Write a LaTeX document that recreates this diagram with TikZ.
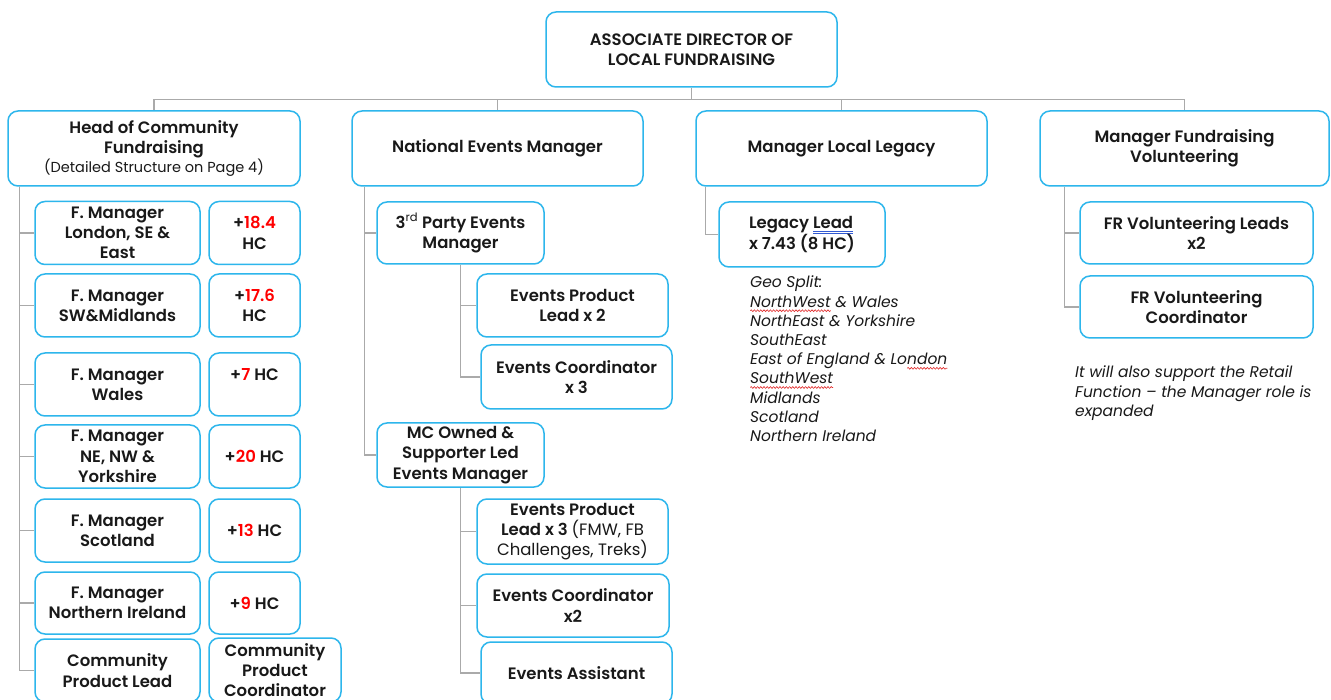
\documentclass[tikz,border=0pt]{standalone}
\usepackage{fontspec}
\setmainfont{Poppins}[BoldFont={Poppins SemiBold}]
\usetikzlibrary{decorations.pathmorphing}
\definecolor{boxblue}{RGB}{45,182,236}
\definecolor{linegray}{RGB}{170,170,170}
\definecolor{hcred}{RGB}{255,0,0}
\definecolor{wavered}{RGB}{225,40,40}
\definecolor{gblue}{RGB}{50,90,210}
\definecolor{txt}{RGB}{25,25,25}
\newsavebox\wbox
\newcommand\redwave[1]{\sbox\wbox{#1}\rlap{\tikz[overlay,baseline=0pt]\draw[wavered, line width=0.6pt, decorate, decoration={snake, amplitude=0.9pt, segment length=3.2pt}] (0pt,-3.5pt) -- (\wd\wbox,-3.5pt);}\usebox\wbox}
\newcommand\blueuu[1]{\sbox\wbox{#1}\rlap{\smash{\textcolor{gblue}{\rule[-3pt]{\wd\wbox}{0.7pt}}}}\rlap{\smash{\textcolor{gblue}{\rule[-5pt]{\wd\wbox}{0.7pt}}}}\usebox\wbox}
\newcommand\rd[1]{\textcolor{hcred}{#1}}
\begin{document}
\begin{tikzpicture}[x=1pt,y=-1pt,
  box/.style={draw=boxblue, line width=1.5pt, rounded corners=10pt, fill=white,
    align=center, inner sep=0pt, text=txt,
    font=\bfseries\fontsize{16.5}{20.3}\selectfont},
  sz/.style n args={2}{minimum width=#1pt, minimum height=#2pt},
  conn/.style={draw=linegray, line width=1.3pt},
  note/.style={align=left, inner sep=0pt, anchor=north west, text=txt,
    font=\itshape\fontsize{15.5}{19.2}\selectfont}]
\clip (0,0) rectangle (1331,700);
\fill[white] (0,0) rectangle (1331,700);

% top
\node[box, sz={291}{75}] (top) at (691.5,49.5) {ASSOCIATE DIRECTOR OF\\LOCAL FUNDRAISING};

% level 1
\node[box, sz={292}{75}] (hcf) at (154,148.5) {Head of Community\\Fundraising\\[-1pt]{\mdseries\fontsize{14.5}{18}\selectfont(Detailed Structure on Page 4)}};
\node[box, sz={291}{75}] (nem) at (497.5,148.5) {National Events Manager};
\node[box, sz={291}{75}] (mll) at (841.5,148.5) {Manager Local Legacy};
\node[box, sz={289}{75}] (mfv) at (1184.5,148.5) {Manager Fundraising\\Volunteering};

% left column
\node[box, sz={165}{63}] (fm1) at (117.5,233) {F. Manager\\London, SE \&\\East};
\node[box, sz={91}{63}]  (hc1) at (254.5,233) {+\rd{18.4}\\HC};
\node[box, sz={165}{63}] (fm2) at (117.5,305.5) {F. Manager\\SW\&Midlands};
\node[box, sz={91}{63}]  (hc2) at (254.5,305.5) {+\rd{17.6}\\HC};
\node[box, sz={165}{63}] (fm3) at (117.5,384.5) {F. Manager\\Wales};
\node[box, sz={91}{63}]  (hc3) at (254.5,384.5) {+\rd{7} HC\\\mbox{}};
\node[box, sz={165}{63}] (fm4) at (117.5,456.5) {F. Manager\\NE, NW \&\\Yorkshire};
\node[box, sz={91}{63}]  (hc4) at (254.5,456.5) {+\rd{20} HC};
\node[box, sz={165}{63}] (fm5) at (117.5,530.5) {F. Manager\\Scotland};
\node[box, sz={91}{63}]  (hc5) at (254.5,530.5) {+\rd{13} HC};
\node[box, sz={165}{62}] (fm6) at (117.5,603) {F. Manager\\Northern Ireland};
\node[box, sz={91}{62}]  (hc6) at (254.5,603) {+\rd{9} HC};
\node[box, sz={165}{63}] (cpl) at (117.5,670.5) {Community\\Product Lead};
\node[box, sz={132}{64}] (cpc) at (275,670) {Community\\Product\\Coordinator};

% events column
\node[box, sz={167}{62}] (tpe) at (460.5,233) {3{\mdseries\textsuperscript{rd}} Party Events\\Manager};
\node[box, sz={191}{63}] (epl2) at (572.5,305.5) {Events Product\\Lead x 2};
\node[box, sz={191}{64}] (ec3) at (576.5,377) {Events Coordinator\\x 3};
\node[box, sz={167}{64}] (mco) at (460.5,455) {MC Owned \&\\Supporter Led\\Events Manager};
\node[box, sz={191}{65}] (epl3) at (572.5,531.5) {Events Product\\Lead x 3 {\mdseries(FMW, FB}\\{\mdseries Challenges, Treks)}};
\node[box, sz={192}{63}] (ec2) at (573,605.5) {Events Coordinator\\x2};
\node[box, sz={191}{62}] (ea) at (576.5,673) {Events Assistant};

% legacy column
\node[box, sz={166}{65}, align=left] (ll) at (802,234.5) {Legacy \blueuu{Lead}\\x 7.43 (8 HC)};
\node[note] (geo) at (750,276) {Geo Split:\\
\redwave{NorthWest} \& Wales\\
NorthEast \& Yorkshire\\
SouthEast\\
East of England \& Lo\redwave{ndon}\\
\redwave{SouthWest}\\
Midlands\\
Scotland\\
Northern Ireland};

% volunteering column
\node[box, sz={233}{62}] (frl) at (1196.5,233) {FR Volunteering Leads\\x2};
\node[box, sz={233}{62}] (frc) at (1196.5,307) {FR Volunteering\\Coordinator};
\node[note] (vnote) at (1075,366) {It will also support the Retail\\Function -- the Manager role is\\expanded};

% connectors
\draw[conn] (top.south) -- ++(0,12) coordinate (bus);
\foreach \h in {hcf,nem,mll,mfv} \draw[conn] (bus) -| (\h.north);
\foreach \c in {fm1,fm2,fm3,fm4,fm5,fm6,cpl} \draw[conn] ([xshift=12pt]hcf.south west) |- (\c.west);
\foreach \c in {tpe,mco} \draw[conn] ([xshift=13pt]nem.south west) |- (\c.west);
\foreach \c in {epl2,ec3} \draw[conn] ([xshift=84pt]tpe.south west) |- (\c.west);
\foreach \c in {epl3,ec2,ea} \draw[conn] ([xshift=84pt]mco.south west) |- (\c.west);
\draw[conn] ([xshift=10pt]mll.south west) |- (ll.west);
\foreach \c in {frl,frc} \draw[conn] ([xshift=25pt]mfv.south west) |- (\c.west);
\end{tikzpicture}
\end{document}
